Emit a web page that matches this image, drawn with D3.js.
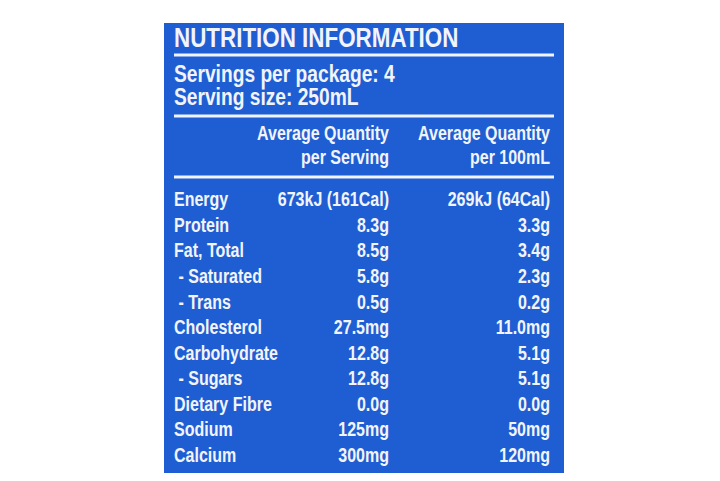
<!DOCTYPE html>
<html><head><meta charset="utf-8">
<script src="https://cdn.jsdelivr.net/npm/d3@7"></script>
<style>body{margin:0;background:#fff}text{font-family:"Liberation Sans",Arial,sans-serif;font-weight:bold;fill:#f2f4fb}</style>
</head><body><svg id="c"></svg>
<script>
const nutrients = ["Energy","Protein","Fat, Total"," - Saturated"," - Trans","Cholesterol","Carbohydrate"," - Sugars","Dietary Fibre","Sodium","Calcium"];
const perServing = ["673kJ (161Cal)","8.3g","8.5g","5.8g","0.5g","27.5mg","12.8g","12.8g","0.0g","125mg","300mg"];
const per100 = ["269kJ (64Cal)","3.3g","3.4g","2.3g","0.2g","11.0mg","5.1g","5.1g","0.0g","50mg","120mg"];
const headers = [["Average Quantity","per Serving"],["Average Quantity","per 100mL"]];

const svg = d3.select("#c").attr("width",720).attr("height",481);
svg.append("rect").attr("x",164).attr("y",23).attr("width",400).attr("height",450).attr("fill","#1f5ed2");

// condensed look: squeeze text horizontally
const SX = 0.8;
function label(x, yy, t, size, anchor) {
  return svg.append("text")
    .attr("transform", `translate(${x},${yy}) scale(${SX},1)`)
    .attr("font-size", size).attr("text-anchor", anchor || "start")
    .attr("xml:space","preserve").text(t);
}

const y = d3.scaleBand().domain(nutrients).range([188,469]);
const colX = [389,550];

label(174,47,"NUTRITION INFORMATION",28);
[55,116,177].forEach(v=>svg.append("rect").attr("x",174).attr("y",v-1.5).attr("width",380).attr("height",3).attr("fill","#f2f4fb"));
label(174,82,"Servings per package: 4",24);
label(174,105,"Serving size: 250mL",24);

headers.forEach((h,i)=>h.forEach((t,j)=>label(colX[i],140+j*24,t,20,"end")));

nutrients.forEach((d,i)=>{
  const yy = y(d)+y.bandwidth()*0.72;
  label(174,yy,d,20);
  label(colX[0],yy,perServing[i],20,"end");
  label(colX[1],yy,per100[i],20,"end");
});
</script></body></html>
